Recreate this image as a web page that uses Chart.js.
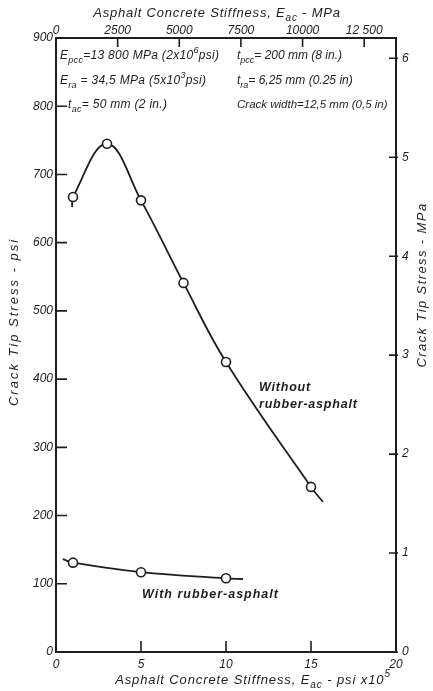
<!DOCTYPE html>
<html>
<head>
<meta charset="utf-8">
<script src="https://cdn.jsdelivr.net/npm/chart.js@4"></script>
<style>
    html, body { margin: 0; padding: 0; background: #fff; }
    #wrap { width: 433px; height: 691px; }
</style>
</head>
<body>
<div id="wrap"><canvas id="chart" width="433" height="691"></canvas></div>
<script>
// 数据
const stiffWithout = [1, 3, 5, 7.5, 10, 15];            // Eac, psi x10^5
const stressWithout = [667, 745, 662, 541, 425, 242];   // psi
const curveWithoutX = [0.95, 1, 3, 5, 7.5, 10, 15, 15.7];
const curveWithoutY = [652, 667, 745, 662, 541, 425, 242, 220];

const stiffRubber = [1, 5, 10];
const stressRubber = [131, 117, 108];
const curveRubberX = [0.4, 1, 5, 10, 11];
const curveRubberY = [136, 131, 117, 108, 107];

// 刻度
const xTicks = [0, 5, 10, 15, 20];
const x2Ticks = [0, 2500, 5000, 7500, 10000, 12500];
const x2Labels = ['0', '2500', '5000', '7500', '10000', '12 500'];
const yTicks = [0, 100, 200, 300, 400, 500, 600, 700, 800, 900];
const y2Ticks = [0, 1, 2, 3, 4, 5, 6];
const PSI_PER_MPA = 145.038;

const INK = '#1e1e1e';
const FAM = '"Liberation Sans", "DejaVu Sans", sans-serif';
const tickFont = { family: FAM, size: 12, style: 'italic' };

const pts = (xs, ys) => xs.map((x, i) => ({ x: x, y: ys[i] }));

// 带上下标的文字: '_xx' 下标, '^xx' 上标
function richText(ctx, x, y, parts, size, opts = {}) {
    const style = opts.bold ? 'italic bold ' : 'italic ';
    ctx.letterSpacing = (opts.spacing || 0) + 'px';
    const segs = parts.map(p => {
        const kind = p[0] === '_' ? 'sub' : p[0] === '^' ? 'sup' : 'n';
        const txt = kind === 'n' ? p : p.slice(1);
        const fs = kind === 'n' ? size : Math.round(size * 0.78);
        ctx.font = style + fs + 'px ' + FAM;
        return { txt, kind, fs, w: ctx.measureText(txt).width };
    });
    const total = segs.reduce((s, q) => s + q.w, 0);
    let cx = opts.align === 'center' ? x - total / 2 : x;
    segs.forEach(q => {
        ctx.font = style + q.fs + 'px ' + FAM;
        const dy = q.kind === 'sub' ? size * 0.38 : q.kind === 'sup' ? -size * 0.45 : 0;
        ctx.fillText(q.txt, cx, y + dy);
        cx += q.w;
    });
    ctx.letterSpacing = '0px';
}

// 向内的刻度线
const inwardTicks = {
    id: 'inwardTicks',
    afterDraw(chart) {
        const { ctx, chartArea: a, scales } = chart;
        ctx.save();
        ctx.strokeStyle = INK;
        ctx.lineWidth = 1.6;
        ctx.beginPath();
        scales.x.ticks.forEach(t => {
            const p = scales.x.getPixelForValue(t.value);
            ctx.moveTo(p, a.bottom); ctx.lineTo(p, a.bottom - 11);
        });
        scales.x2.ticks.forEach(t => {
            const p = scales.x2.getPixelForValue(t.value);
            ctx.moveTo(p, a.top); ctx.lineTo(p, a.top + 9);
        });
        scales.y.ticks.forEach(t => {
            const p = scales.y.getPixelForValue(t.value);
            ctx.moveTo(a.left, p); ctx.lineTo(a.left + 11, p);
        });
        scales.y2.ticks.forEach(t => {
            const p = scales.y2.getPixelForValue(t.value);
            ctx.moveTo(a.right + 2, p); ctx.lineTo(a.right - 7, p);
        });
        ctx.stroke();
        ctx.restore();
    }
};

// 标题和注释文字
const labelsPlugin = {
    id: 'labelsPlugin',
    afterDraw(chart) {
        const ctx = chart.ctx;
        ctx.save();
        ctx.fillStyle = INK;
        ctx.textBaseline = 'middle';

        richText(ctx, 217, 13, ['Asphalt Concrete Stiffness, E', '_ac', ' - MPa'], 13, { align: 'center', spacing: 0.8 });
        richText(ctx, 253, 680, ['Asphalt Concrete Stiffness, E', '_ac', ' - psi x10', '^5'], 13, { align: 'center', spacing: 0.9 });

        ctx.save();
        ctx.translate(14, 322);
        ctx.rotate(-Math.PI / 2);
        richText(ctx, 0, 0, ['Crack Tip Stress - psi'], 13, { align: 'center', spacing: 2 });
        ctx.restore();

        ctx.save();
        ctx.translate(422, 285);
        ctx.rotate(-Math.PI / 2);
        richText(ctx, 0, 0, ['Crack Tip Stress - MPa'], 13, { align: 'center', spacing: 1.4 });
        ctx.restore();

        // 参数说明
        richText(ctx, 60, 56, ['E', '_pcc', '=13 800 MPa (2x10', '^6', 'psi)'], 12, { spacing: 0.3 });
        richText(ctx, 60, 81, ['E', '_ra', ' = 34,5 MPa (5x10', '^3', 'psi)'], 12, { spacing: 0.3 });
        richText(ctx, 68, 105, ['t', '_ac', '= 50 mm (2 in.)'], 12, { spacing: 0.3 });
        richText(ctx, 237, 56, ['t', '_pcc', '= 200 mm (8 in.)'], 12);
        richText(ctx, 237, 81, ['t', '_ra', '= 6,25 mm (0.25 in)'], 12);
        richText(ctx, 237, 105, ['Crack width=12,5 mm (0,5 in)'], 11.5);

        // 曲线标签
        richText(ctx, 259, 388, ['Without'], 12.5, { bold: true, spacing: 0.8 });
        richText(ctx, 259, 405, ['rubber-asphalt'], 12.5, { bold: true, spacing: 0.8 });
        richText(ctx, 142, 595, ['With rubber-asphalt'], 12.5, { bold: true, spacing: 1 });

        ctx.restore();
    }
};

const curveStyle = {
    showLine: true,
    borderColor: INK,
    borderWidth: 1.8,
    pointRadius: 0,
    tension: 0.4,
    order: 2
};
const markerStyle = {
    showLine: false,
    pointRadius: 4.5,
    pointBackgroundColor: '#fff',
    pointBorderColor: INK,
    pointBorderWidth: 1.6,
    order: 1
};

new Chart(document.getElementById('chart'), {
    type: 'scatter',
    data: {
        datasets: [
            Object.assign({ label: 'Without rubber-asphalt curve', data: pts(curveWithoutX, curveWithoutY) }, curveStyle),
            Object.assign({ label: 'With rubber-asphalt curve', data: pts(curveRubberX, curveRubberY) }, curveStyle),
            Object.assign({ label: 'Without rubber-asphalt', data: pts(stiffWithout, stressWithout) }, markerStyle),
            Object.assign({ label: 'With rubber-asphalt', data: pts(stiffRubber, stressRubber) }, markerStyle)
        ]
    },
    options: {
        responsive: false,
        animation: false,
        layout: { padding: 0 },
        plugins: {
            legend: { display: false },
            tooltip: { enabled: false }
        },
        scales: {
            x: {
                type: 'linear', position: 'bottom', min: 0, max: 20,
                grid: { display: false, drawTicks: false },
                border: { color: INK, width: 2 },
                ticks: { font: tickFont, color: INK, padding: 5, maxRotation: 0 },
                afterBuildTicks: s => { s.ticks = xTicks.map(v => ({ value: v })); },
                afterFit: s => { s.height = 39; }
            },
            x2: {
                type: 'linear', position: 'top', min: 0, max: 20e5 / PSI_PER_MPA,
                grid: { display: false, drawTicks: false },
                border: { color: INK, width: 2 },
                ticks: {
                    font: tickFont, color: INK, padding: 0, maxRotation: 0,
                    callback: v => x2Labels[x2Ticks.indexOf(v)]
                },
                afterBuildTicks: s => { s.ticks = x2Ticks.map(v => ({ value: v })); },
                afterFit: s => { s.height = 38; }
            },
            y: {
                type: 'linear', position: 'left', min: 0, max: 900,
                grid: { display: false, drawTicks: false },
                border: { color: INK, width: 2 },
                ticks: { font: tickFont, color: INK, padding: 3 },
                afterBuildTicks: s => { s.ticks = yTicks.map(v => ({ value: v })); },
                afterFit: s => { s.width = 56; }
            },
            y2: {
                type: 'linear', position: 'right', min: 0, max: 900 / PSI_PER_MPA,
                grid: { display: false, drawTicks: false },
                border: { color: INK, width: 2 },
                ticks: { font: tickFont, color: INK, padding: 6 },
                afterBuildTicks: s => { s.ticks = y2Ticks.map(v => ({ value: v })); },
                afterFit: s => { s.width = 37; }
            }
        }
    },
    plugins: [inwardTicks, labelsPlugin]
});
</script>
</body>
</html>
